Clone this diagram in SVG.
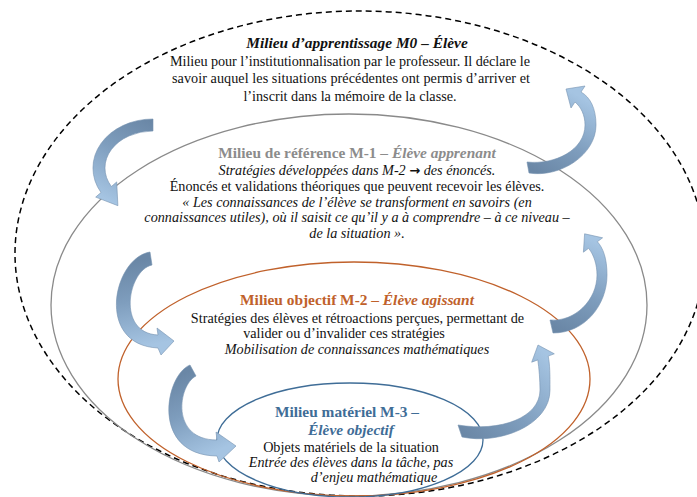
<svg xmlns="http://www.w3.org/2000/svg" width="697" height="497" viewBox="0 0 697 497">
<style>
text{font-family:"Liberation Serif","Times New Roman",serif;font-size:14.2px;fill:#111;text-anchor:middle}
.t{font-weight:bold;font-size:15.4px}
.i{font-style:italic}
.ring{fill:none}
.arr{stroke:#7692b0;stroke-width:0.6}
.ar{font-family:"DejaVu Sans",sans-serif;font-style:normal;font-weight:bold;font-size:13px}
</style>
<defs>
<linearGradient id="g1" gradientUnits="userSpaceOnUse" x1="153" y1="122" x2="112" y2="202"><stop offset="0" stop-color="#6a87a6"/><stop offset="0.45" stop-color="#7e9dbd"/><stop offset="1" stop-color="#a5c4e2"/></linearGradient>
<linearGradient id="g2" gradientUnits="userSpaceOnUse" x1="528" y1="167" x2="572" y2="92"><stop offset="0" stop-color="#6a87a6"/><stop offset="0.45" stop-color="#7e9dbd"/><stop offset="1" stop-color="#a5c4e2"/></linearGradient>
<linearGradient id="g3" gradientUnits="userSpaceOnUse" x1="151" y1="258" x2="166" y2="342"><stop offset="0" stop-color="#6a87a6"/><stop offset="0.45" stop-color="#7e9dbd"/><stop offset="1" stop-color="#a5c4e2"/></linearGradient>
<linearGradient id="g4" gradientUnits="userSpaceOnUse" x1="551" y1="326" x2="592" y2="240"><stop offset="0" stop-color="#6a87a6"/><stop offset="0.45" stop-color="#7e9dbd"/><stop offset="1" stop-color="#a5c4e2"/></linearGradient>
<linearGradient id="g5" gradientUnits="userSpaceOnUse" x1="192" y1="370" x2="226" y2="447"><stop offset="0" stop-color="#6a87a6"/><stop offset="0.45" stop-color="#7e9dbd"/><stop offset="1" stop-color="#a5c4e2"/></linearGradient>
<linearGradient id="g6" gradientUnits="userSpaceOnUse" x1="460" y1="431" x2="543" y2="352"><stop offset="0" stop-color="#6a87a6"/><stop offset="0.45" stop-color="#7e9dbd"/><stop offset="1" stop-color="#a5c4e2"/></linearGradient>
</defs>
<rect width="697" height="497" fill="#ffffff"/>

<g id="m0">
<ellipse class="ring" cx="360" cy="253.5" rx="345" ry="242.5" stroke="#000" stroke-width="1.5" stroke-dasharray="6,4"/>
<text x="357" y="48" class="t i">Milieu d’apprentissage M0 – Élève</text>
<text x="350" y="65.5" textLength="360" lengthAdjust="spacing">Milieu pour l’institutionnalisation par le professeur. Il déclare le</text>
<text x="351" y="83" textLength="358" lengthAdjust="spacing">savoir auquel les situations précédentes ont permis d’arriver et</text>
<text x="350" y="100.5">l’inscrit dans la mémoire de la classe.</text>
</g>

<g id="m1">
<ellipse class="ring" cx="349" cy="305" rx="298" ry="191" stroke="#8a8a8a" stroke-width="1.3"/>
<text x="357" y="158" class="t" style="fill:#8c8c8c">Milieu de référence M-1 – <tspan class="i">Élève apprenant</tspan></text>
<text x="357" y="174.5" class="i">Stratégies développées dans M-2 <tspan class="ar">→</tspan> des énoncés.</text>
<text x="357" y="190.5">Énoncés et validations théoriques que peuvent recevoir les élèves.</text>
<text x="357" y="206.5" class="i">« Les connaissances de l’élève se transforment en savoirs (en</text>
<text x="357" y="222" class="i">connaissances utiles), où il saisit ce qu’il y a à comprendre – à ce niveau –</text>
<text x="357" y="237.5" class="i">de la situation ».</text>
</g>

<g id="m2">
<ellipse class="ring" cx="354" cy="379" rx="236" ry="117" stroke="#c0612b" stroke-width="1.3"/>
<text x="357" y="305" class="t" style="fill:#c0612b">Milieu objectif M-2 – <tspan class="i">Élève agissant</tspan></text>
<text x="357.5" y="322.5">Stratégies des élèves et rétroactions perçues, permettant de</text>
<text x="344" y="338">valider ou d’invalider ces stratégies</text>
<text x="357" y="354" class="i">Mobilisation de connaissances mathématiques</text>
</g>

<g id="m3">
<ellipse class="ring" cx="350" cy="440" rx="133" ry="57" stroke="#3f6d97" stroke-width="1.3"/>
<text x="347" y="417" class="t" style="fill:#3f6d97">Milieu matériel M-3 –</text>
<text x="351" y="434.5" class="t i" style="fill:#3f6d97">Élève objectif</text>
<text x="351" y="451.5">Objets matériels de la situation</text>
<text x="351" y="466.5" class="i">Entrée des élèves dans la tâche, pas</text>
<text x="374" y="481.5" class="i">d’enjeu mathématique</text>
</g>

<g id="connectors">
<path class="arr" fill="url(#g1)" d="M153,119 A60 49 0 0 0 101,192.5 L95.7,197.1 L117.9,205.7 L116.7,181.9 L111.4,186.5 A48 37 0 0 1 153,131 Z"/>
<path class="arr" fill="url(#g2)" d="M529,173 C560,178 596,155 596,125 C596,108 590,97 581,92 L585,86 L566,89 L571,108 L575,102 C581,107 585,115 585,125 C585,150 555,165 527,162 Z"/>
<path class="arr" fill="url(#g3)" d="M150,252 C113,258 95,345 158,348 L161,355 L174,341 L157,328 L158,335 C116,333 128,270 152,265 Z"/>
<path class="arr" fill="url(#g4)" d="M553,333 C585,333 607,305 607,275 C607,258 603,248 597.4,241.7 L602.6,237.8 L584.6,233.8 L583.4,252.2 L588.6,248.3 C594,255 597,265 597,275 C597,300 575,322 550,320 Z"/>
<path class="arr" fill="url(#g5)" d="M190,365 C165,375 150,455 217,456 L219,462 L236,446 L216,432 L217,440 C170,440 178,385 196,376 Z"/>
<path class="arr" fill="url(#g6)" d="M462,437 C500,445 550,425 550,390 C550,375 550,365 548.2,356.1 L554.3,353.8 L538,345 L531.7,362.2 L537.8,359.9 C539,368 540,380 540,390 C540,418 500,432 458,425 Z"/>
</g>
</svg>
